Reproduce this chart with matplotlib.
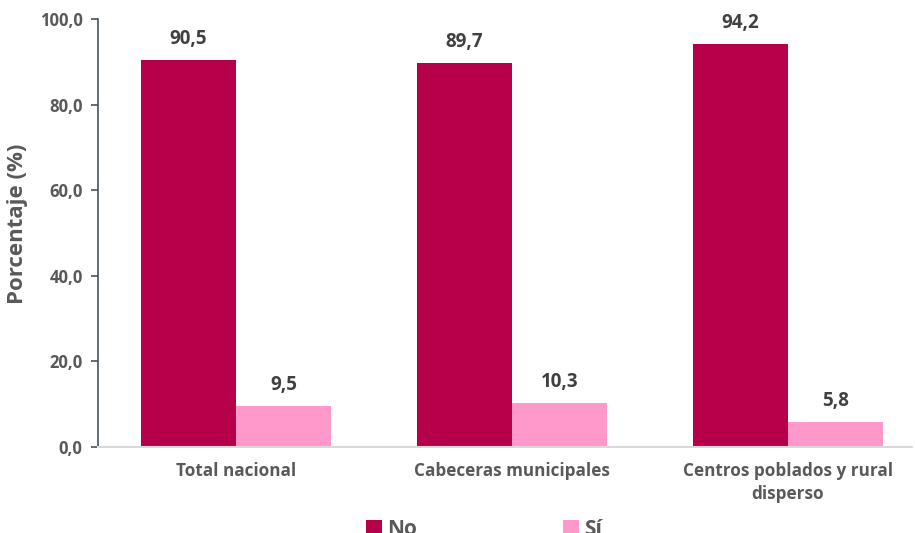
import numpy as np
import matplotlib
matplotlib.use("Agg")
import matplotlib.pyplot as plt

plt.rcParams['font.family'] = ['Open Sans', 'DejaVu Sans']

categories = ["Total nacional", "Cabeceras municipales", "Centros poblados y rural\ndisperso"]
no_values = [90.5, 89.7, 94.2]
si_values = [9.5, 10.3, 5.8]
yticks = [0, 20, 40, 60, 80, 100]

no_color = "#B7004A"
si_color = "#FF99CC"
grey = "#595959"

fig = plt.figure(figsize=(9.15, 5.33), dpi=100)
ax = fig.add_axes([98 / 915, 86 / 533, 814 / 915, 428 / 533])

x = np.arange(len(categories))
w = 0.345
b1 = ax.bar(x - w / 2, no_values, w, color=no_color, label="No")
b2 = ax.bar(x + w / 2, si_values, w, color=si_color, label="Sí")

for bars in (b1, b2):
    for rect in bars:
        v = rect.get_height()
        ax.annotate(f"{v:.1f}".replace(".", ","),
                    (rect.get_x() + rect.get_width() / 2, v),
                    xytext=(0, 8), textcoords="offset points",
                    ha="center", va="bottom", fontsize=13.5, fontweight="bold", color="#404040")

ax.set_xlim(-0.5, 2.45)
ax.set_ylim(0, 100)
ax.set_yticks(yticks)
ax.set_yticklabels([f"{t:.1f}".replace(".", ",") for t in yticks],
                   fontsize=12, fontweight="bold", color=grey)
ax.set_xticks(x)
ax.set_xticklabels(categories, fontsize=12.3, fontweight="bold", color=grey, linespacing=1.35)
ax.tick_params(axis="x", length=0, pad=11)
ax.tick_params(axis="y", length=5, color="#44546A", width=1.2, pad=6)

for s in ("top", "right"):
    ax.spines[s].set_visible(False)
ax.spines["left"].set_color("#44546A")
ax.spines["left"].set_linewidth(1.2)
ax.spines["bottom"].set_color("#D9D9D9")
ax.spines["bottom"].set_linewidth(1.5)

fig.text(18 / 915, 1 - 224 / 533, "Porcentaje (%)", rotation=90, ha="center", va="center",
         fontsize=16, fontweight="bold", color=grey)

fig.legend(handles=[b1, b2], loc="upper center", bbox_to_anchor=(484 / 915, 1 - 500 / 533),
           ncol=2, frameon=False, columnspacing=7, handlelength=0.75, handleheight=0.75,
           handletextpad=0.25, prop={"size": 15, "weight": "bold"}, labelcolor=grey)

fig.savefig("out.png", dpi=100)
